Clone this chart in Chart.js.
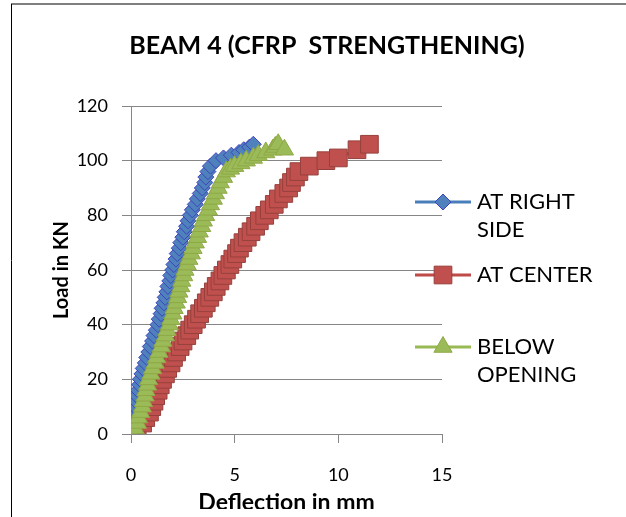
<!DOCTYPE html>
<html>
<head>
<meta charset="utf-8">
<script src="https://cdn.jsdelivr.net/npm/chart.js@4.4.0/dist/chart.umd.min.js"></script>
<style>
    html, body { margin: 0; padding: 0; background: #fff; }
    canvas { display: block; }
</style>
</head>
<body>
<canvas id="graphic-beam" width="626" height="517"></canvas>
<script>
const titleText = 'BEAM 4 (CFRP  STRENGTHENING)';
const xTitle = 'Deflection in mm';
const yTitle = 'Load in KN';
const seriesNames = [['AT RIGHT', 'SIDE'], ['AT CENTER'], ['BELOW', 'OPENING']];
const xTicks = [0, 5, 10, 15];
const yTicks = [0, 20, 40, 60, 80, 100, 120];

// AT RIGHT SIDE
const loadRight = [0, 2, 4, 6, 8, 10, 12, 14, 16, 18, 20, 22, 24, 26, 28, 30, 32, 34, 36, 38, 40, 42, 44, 46, 48, 50, 52, 54, 56, 58, 60, 62, 64, 66, 68, 70, 72, 74, 76, 78, 80, 82, 84, 86, 88, 90, 92, 94, 96, 98, 100, 101, 102, 103, 104, 105, 106];
const deflRight = [0, 0.04, 0.09, 0.11, 0.17, 0.2, 0.26, 0.29, 0.35, 0.41, 0.45, 0.53, 0.59, 0.69, 0.76, 0.86, 0.93, 1.04, 1.11, 1.22, 1.3, 1.36, 1.45, 1.5, 1.59, 1.65, 1.73, 1.78, 1.87, 1.92, 2.01, 2.07, 2.17, 2.23, 2.33, 2.4, 2.5, 2.57, 2.68, 2.75, 2.86, 2.96, 3.1, 3.2, 3.34, 3.44, 3.56, 3.61, 3.71, 3.83, 4.1, 4.46, 4.84, 5.21, 5.44, 5.72, 5.9];

// AT CENTER
const loadCenter = [0, 2, 4, 6, 8, 10, 12, 14, 16, 18, 20, 22, 24, 26, 28, 30, 32, 34, 36, 38, 40, 42, 44, 46, 48, 50, 52, 54, 56, 58, 60, 62, 64, 66, 68, 70, 72, 74, 76, 78, 80, 82, 84, 86, 88, 90, 92, 94, 96, 98, 100, 101, 104, 106];
const deflCenter = [0, 0.3, 0.56, 0.71, 0.89, 1.0, 1.11, 1.19, 1.31, 1.41, 1.52, 1.66, 1.77, 1.93, 2.05, 2.2, 2.37, 2.51, 2.69, 2.83, 3.0, 3.16, 3.31, 3.49, 3.63, 3.8, 3.97, 4.11, 4.29, 4.43, 4.6, 4.77, 4.91, 5.09, 5.23, 5.4, 5.61, 5.79, 6.01, 6.19, 6.45, 6.67, 6.91, 7.11, 7.37, 7.6, 7.74, 7.93, 8.1, 8.6, 9.4, 10.0, 10.9, 11.5];

// BELOW OPENING
const loadBelow = [0, 2, 4, 6, 8, 10, 12, 14, 16, 18, 20, 22, 24, 26, 28, 30, 32, 34, 36, 38, 40, 42, 44, 46, 48, 50, 52, 54, 56, 58, 60, 62, 64, 66, 68, 70, 72, 74, 76, 78, 80, 82, 84, 86, 88, 90, 92, 94, 96, 97, 98, 99, 100, 101, 102, 103, 104, 105, 106, 104];
const deflBelow = [0, 0.2, 0.31, 0.36, 0.46, 0.55, 0.6, 0.68, 0.72, 0.8, 0.85, 0.96, 1.04, 1.16, 1.24, 1.35, 1.46, 1.54, 1.66, 1.74, 1.85, 1.92, 2.02, 2.08, 2.18, 2.25, 2.31, 2.4, 2.45, 2.54, 2.6, 2.71, 2.79, 2.91, 2.99, 3.1, 3.21, 3.29, 3.41, 3.49, 3.6, 3.73, 3.83, 3.97, 4.07, 4.2, 4.31, 4.46, 4.6, 4.8, 5.0, 5.3, 5.56, 5.9, 6.14, 6.5, 6.84, 6.96, 7.1, 7.4];

function toPoints(xs, ys) {
    return xs.map((x, i) => ({ x: x, y: ys[i] }));
}

const fontFace = 'Lato, "Open Sans", sans-serif';

const frame = {
    id: 'frame',
    beforeDraw(chart) {
        const ctx = chart.ctx;
        ctx.save();
        ctx.fillStyle = '#fff';
        ctx.fillRect(0, 0, chart.width, chart.height);
        ctx.restore();
    },
    afterDraw(chart) {
        const ctx = chart.ctx;
        ctx.save();
        // the picture is cut just under the x axis title
        ctx.fillStyle = '#fff';
        ctx.fillRect(12, 509, chart.width, chart.height - 509);

        ctx.strokeStyle = '#808080';
        ctx.lineWidth = 2;
        ctx.beginPath();
        ctx.moveTo(11, 4);
        ctx.lineTo(chart.width, 4);
        ctx.stroke();
        ctx.strokeStyle = '#000';
        ctx.lineWidth = 1;
        ctx.beginPath();
        ctx.moveTo(11.5, 4);
        ctx.lineTo(11.5, chart.height);
        ctx.stroke();

        // title
        ctx.fillStyle = '#000';
        ctx.font = 'bold 25px ' + fontFace;
        ctx.textAlign = 'center';
        ctx.textBaseline = 'middle';
        ctx.fillText(titleText, 327, 46);

        // legend
        const rows = [202, 275, 347];
        ctx.font = '22px ' + fontFace;
        ctx.textAlign = 'left';
        chart.data.datasets.forEach((ds, i) => {
            const y = rows[i];
            ctx.strokeStyle = ds.borderColor;
            ctx.lineWidth = ds.borderWidth;
            ctx.beginPath();
            ctx.moveTo(415, y);
            ctx.lineTo(471, y);
            ctx.stroke();
            ctx.fillStyle = ds.pointBackgroundColor;
            ctx.strokeStyle = ds.pointBorderColor;
            ctx.lineWidth = ds.pointBorderWidth;
            Chart.helpers.drawPoint(ctx, {
                pointStyle: ds.pointStyle,
                radius: ds.pointRadius,
                borderWidth: ds.pointBorderWidth,
                rotation: 0
            }, 443, y);
            ctx.fillStyle = '#000';
            seriesNames[i].forEach((line, j) => {
                ctx.fillText(line, 477, y + j * 28);
            });
        });
        ctx.restore();
    }
};

const data = {
    datasets: [{
        label: seriesNames[0].join(' '),
        data: toPoints(deflRight, loadRight),
        borderColor: '#4A7EBB',
        borderWidth: 3,
        pointStyle: 'rectRot',
        pointRadius: 8,
        pointBackgroundColor: '#4F81BD',
        pointBorderColor: '#3f45b8',
        pointBorderWidth: 1,
        order: 2
    }, {
        label: seriesNames[1].join(' '),
        data: toPoints(deflCenter, loadCenter),
        borderColor: '#BE4B48',
        borderWidth: 3,
        pointStyle: 'rect',
        pointRadius: 12.5,
        pointBackgroundColor: '#C0504D',
        pointBorderColor: '#96403d',
        pointBorderWidth: 1,
        order: 3
    }, {
        label: seriesNames[2].join(' '),
        data: toPoints(deflBelow, loadBelow),
        borderColor: '#98B954',
        borderWidth: 3,
        pointStyle: 'triangle',
        pointRadius: 10.5,
        pointBackgroundColor: '#9BBB59',
        pointBorderColor: '#8fa845',
        pointBorderWidth: 1,
        order: 1
    }]
};

const config = {
    type: 'scatter',
    data: data,
    options: {
        responsive: false,
        animation: false,
        showLine: true,
        layout: {
            padding: { top: 106, left: 40, right: 184, bottom: 0 }
        },
        plugins: {
            legend: { display: false },
            title: { display: false },
            tooltip: { enabled: false }
        },
        scales: {
            x: {
                type: 'linear',
                min: xTicks[0],
                max: xTicks[xTicks.length - 1],
                ticks: {
                    stepSize: xTicks[1] - xTicks[0],
                    color: '#000',
                    padding: 21,
                    font: { family: fontFace, size: 18 }
                },
                grid: {
                    drawOnChartArea: false,
                    drawTicks: true,
                    tickLength: 9,
                    color: '#868686'
                },
                border: { display: true, color: '#868686' },
                title: {
                    display: true,
                    text: xTitle,
                    color: '#000',
                    font: { family: fontFace, size: 23, weight: 'bold' },
                    padding: { top: 0, bottom: 1 }
                },
                afterFit(scale) { scale.height = 83; }
            },
            y: {
                type: 'linear',
                min: yTicks[0],
                max: yTicks[yTicks.length - 1],
                ticks: {
                    stepSize: yTicks[1] - yTicks[0],
                    color: '#000',
                    padding: 14,
                    font: { family: fontFace, size: 18 }
                },
                grid: {
                    tickLength: 9,
                    color: '#868686'
                },
                border: { display: true, color: '#868686' },
                title: {
                    display: true,
                    text: yTitle,
                    color: '#000',
                    font: { family: fontFace, size: 20, weight: 'bold' },
                    padding: { top: 10, bottom: 0 }
                },
                afterFit(scale) { scale.width = 91; }
            }
        }
    },
    plugins: [frame]
};

new Chart(document.getElementById('graphic-beam'), config);
</script>
</body>
</html>
